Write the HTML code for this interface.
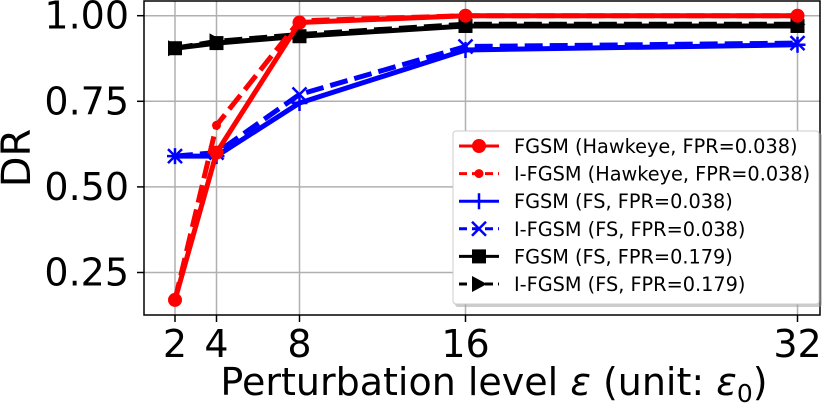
<!DOCTYPE html>
<html><head><meta charset="utf-8"><style>
body{margin:0;background:#fff;}
svg{display:block;font-family:"DejaVu Sans","Liberation Sans",sans-serif;}
</style></head><body>
<svg id="chart" width="830" height="410" viewBox="0 0 830 410" xmlns="http://www.w3.org/2000/svg"></svg>
<script>
const eps = [2, 4, 8, 16, 32];
const fgsmHawk = [0.17, 0.60, 0.98, 1.0, 1.0];
const ifgsmHawk = [0.17, 0.68, 0.985, 1.0, 1.0];
const fgsmFS038 = [0.59, 0.59, 0.745, 0.90, 0.915];
const ifgsmFS038 = [0.59, 0.60, 0.77, 0.91, 0.92];
const fgsmFS179 = [0.905, 0.92, 0.94, 0.97, 0.97];
const ifgsmFS179 = [0.905, 0.925, 0.945, 0.975, 0.975];
const yTicks = [0.25, 0.50, 0.75, 1.00];
const yTickLabels = ["0.25", "0.50", "0.75", "1.00"];
const xTickLabels = ["2", "4", "8", "16", "32"];

const NS = "http://www.w3.org/2000/svg";
const svg = document.getElementById('chart');
const L = 144, R = 820, T = 1, B = 315;
function x(v){ return 175 + (v - 2) * 20.75; }
function y(v){ return 15.7 + (1 - v) * 342.4; }
function mk(tag, attrs, parent){ const e = document.createElementNS(NS, tag); for (const k in attrs) e.setAttribute(k, attrs[k]); (parent||svg).appendChild(e); return e; }

yTicks.forEach((t, i) => {
  const g = mk('line', {x1:L, x2:R, y1:y(t), y2:y(t), stroke:'#b0b0b0', 'stroke-width':1.5});
  
  
  mk('line', {x1:L-7, x2:L, y1:y(t), y2:y(t), stroke:'#000', 'stroke-width':1.5});
  const tx = mk('text', {x:L-15, y:y(t)+13, 'text-anchor':'end', 'font-size':38});
  tx.textContent = yTickLabels[i];
  
  
});
eps.forEach((e, i) => {
  const g = mk('line', {x1:x(e), x2:x(e), y1:T, y2:B, stroke:'#b0b0b0', 'stroke-width':1.5});
  
  
  mk('line', {x1:x(e), x2:x(e), y1:B, y2:B+7, stroke:'#000', 'stroke-width':1.5});
  const tx = mk('text', {x:x(e), y:B+42, 'text-anchor':'middle', 'font-size':38});
  tx.textContent = xTickLabels[i];
  
  
});

function series(vals, color, dash, marker, name){
  const g = mk('g', {});
  
  
  const pts = eps.map((e, i) => x(e) + ',' + y(vals[i])).join(' ');
  const attrs = {points:pts, fill:'none', stroke:color, 'stroke-width':5, 'stroke-linejoin':'round'};
  if (dash) attrs['stroke-dasharray'] = '18,7';
  mk('polyline', attrs, g);
  eps.forEach((e, i) => drawMarker(g, x(e), y(vals[i]), marker, color));
}
function drawMarker(g, cx, cy, m, c){
  if (m === 'o') mk('circle', {cx, cy, r:7, fill:c}, g);
  else if (m === '.') mk('circle', {cx, cy, r:4.5, fill:c}, g);
  else if (m === '+') { mk('path', {d:`M${cx-8},${cy}H${cx+8}M${cx},${cy-8}V${cy+8}`, stroke:c, 'stroke-width':2.5}, g); }
  else if (m === 'x') { mk('path', {d:`M${cx-7},${cy-7}L${cx+7},${cy+7}M${cx-7},${cy+7}L${cx+7},${cy-7}`, stroke:c, 'stroke-width':2.5}, g); }
  else if (m === 's') mk('rect', {x:cx-7, y:cy-7, width:14, height:14, fill:c}, g);
  else if (m === '>') mk('polygon', {points:`${cx-7},${cy-8} ${cx+8},${cy} ${cx-7},${cy+8}`, fill:c}, g);
}
series(fgsmFS179, '#000', false, 's', 'series-fgsm-fs-179');
series(ifgsmFS179, '#000', true, '>', 'series-ifgsm-fs-179');
series(fgsmFS038, '#0000ff', false, '+', 'series-fgsm-fs-038');
series(ifgsmFS038, '#0000ff', true, 'x', 'series-ifgsm-fs-038');
series(fgsmHawk, '#ff0000', false, 'o', 'series-fgsm-hawkeye');
series(ifgsmHawk, '#ff0000', true, '.', 'series-ifgsm-hawkeye');

const fr = mk('rect', {x:L, y:T, width:R-L, height:B-T, fill:'none', stroke:'#000', 'stroke-width':1.5});



const lg = mk('g', {});


mk('rect', {x:455, y:133, width:367, height:174, rx:3, fill:'#999', opacity:0.5}, lg);
mk('rect', {x:453, y:131, width:366, height:173, rx:3, fill:'#fff', stroke:'#ccc', 'stroke-width':1}, lg);
const legLabels = ["FGSM (Hawkeye, FPR=0.038)", "I-FGSM (Hawkeye, FPR=0.038)", "FGSM (FS, FPR=0.038)", "I-FGSM (FS, FPR=0.038)", "FGSM (FS, FPR=0.179)", "I-FGSM (FS, FPR=0.179)"];
const legColors = ['#ff0000','#ff0000','#0000ff','#0000ff','#000','#000'];
const legDash = [false,true,false,true,false,true];
const legMark = ['o','.','+','x','s','>'];
legLabels.forEach((t, i) => {
  const yy = 146 + i * 27.6;
  const eg = mk('g', {}, lg);
  
  
  const la = {x1:459, x2:499, y1:yy, y2:yy, stroke:legColors[i], 'stroke-width':3};
  if (legDash[i]) la['stroke-dasharray'] = '8,5';
  mk('line', la, eg);
  drawMarker(eg, 479, yy, legMark[i], legColors[i]);
  const tx = mk('text', {x:514, y:yy+7, 'font-size':19.3}, eg);
  tx.textContent = t;
});

const yl = mk('text', {x:30, y:158, 'text-anchor':'middle', 'font-size':40, transform:'rotate(-90 30 158)'});
yl.textContent = 'DR';


const xl = mk('text', {x:494, y:395, 'text-anchor':'middle', 'font-size':38});
xl.innerHTML = 'Perturbation level <tspan font-style="italic">ε</tspan> (unit: <tspan font-style="italic">ε</tspan><tspan font-size="25" dy="7">0</tspan><tspan dy="-7">)</tspan>';


</script>
</body></html>
